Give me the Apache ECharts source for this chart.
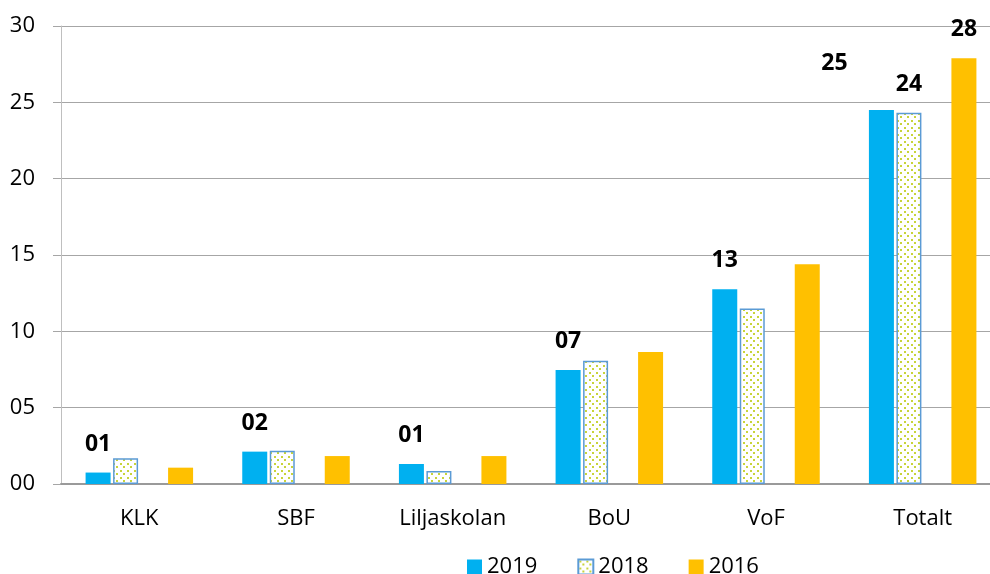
<!DOCTYPE html>
<html>
<head>
<meta charset="utf-8">
<script src="https://cdn.jsdelivr.net/npm/echarts@6/dist/echarts.min.js"></script>
<style>
html,body{margin:0;padding:0;background:#fff;}
#chart{width:990px;height:574px;}
</style>
</head>
<body>
<div id="chart"></div>
<script>
const categories = ['KLK', 'SBF', 'Liljaskolan', 'BoU', 'VoF', 'Totalt'];
const seriesNames = ['2019', '2018', '2017', '2016'];
const values2019 = [0.75, 2.12, 1.31, 7.47, 12.75, 24.5];
const values2018 = [1.68, 2.18, 0.85, 8.08, 11.5, 24.32];
const values2017 = [null, null, null, null, null, null];
const values2016 = [1.07, 1.83, 1.83, 8.64, 14.39, 27.88];
const yTicks = ['00', '05', '10', '15', '20', '25', '30'];

function makePattern() {
  const c = document.createElement('canvas');
  c.width = 7; c.height = 7;
  const ctx = c.getContext('2d');
  ctx.fillStyle = '#ffffff';
  ctx.fillRect(0, 0, 7, 7);
  ctx.fillStyle = '#C8D43A';
  ctx.fillRect(1, 1, 2, 2);
  ctx.fillRect(4, 4, 2, 2);
  return c;
}

const fmt = p => String(Math.round(p.value)).padStart(2, '0');
const labelStyle = {
  show: true, position: 'top', distance: 17,
  fontFamily: 'Open Sans', fontWeight: 'bold', fontSize: 23, color: '#000',
  lineHeight: 23, formatter: fmt
};

const chart = echarts.init(document.getElementById('chart'));
const data2019 = values2019.map((v, i) => {
  if (i === 5) return { value: v, label: { offset: [-47, -18] } };
  return v;
});
const data2018 = values2018.map((v, i) => i === 5 ? { value: v, label: Object.assign({}, labelStyle) } : v);
const data2016 = values2016.map((v, i) => i === 5 ? { value: v, label: Object.assign({}, labelStyle) } : v);

chart.setOption({
  animation: false,
  backgroundColor: '#fff',
  grid: { left: 61, width: 940, top: 26, height: 458, containLabel: false, outerBoundsMode: 'none' },
  legend: {
    data: ['2019', '2018', '2016'],
    left: 462, top: 551,
    icon: 'rect', itemWidth: 15, itemHeight: 15, itemGap: 40,
    textStyle: { fontFamily: 'Open Sans', fontSize: 22, color: '#000', padding: [0, 0, 0, 0] }
  },
  xAxis: {
    type: 'category', data: categories,
    axisLine: { lineStyle: { color: '#9a9a9a', width: 2 } },
    axisTick: { show: false },
    axisLabel: { fontFamily: 'Open Sans', fontSize: 22, color: '#000', margin: 24 }
  },
  yAxis: {
    type: 'value', min: 0, max: 30, interval: 5,
    axisLine: { show: true, lineStyle: { color: '#bfbfbf', width: 1 } },
    axisTick: { show: true, length: 8, lineStyle: { color: '#a6a6a6' } },
    splitLine: { lineStyle: { color: '#a6a6a6', width: 1 } },
    axisLabel: {
      fontFamily: 'Open Sans', fontSize: 22, color: '#000', margin: 26,
      formatter: v => yTicks[v / 5]
    }
  },
  series: [
    { name: seriesNames[0], type: 'bar', data: data2019, barWidth: 25, barGap: '10%',
      itemStyle: { color: '#00B0F0' }, label: labelStyle },
    { name: seriesNames[1], type: 'bar', data: data2018, barWidth: 25, barGap: '10%',
      itemStyle: { color: { image: makePattern(), repeat: 'repeat' }, borderColor: '#5B9BD5', borderWidth: 1.5 } },
    { name: seriesNames[2], type: 'bar', data: values2017, barWidth: 25, barGap: '10%' },
    { name: seriesNames[3], type: 'bar', data: data2016, barWidth: 25, barGap: '10%',
      itemStyle: { color: '#FFC000' } }
  ]
});
</script>
</body>
</html>
